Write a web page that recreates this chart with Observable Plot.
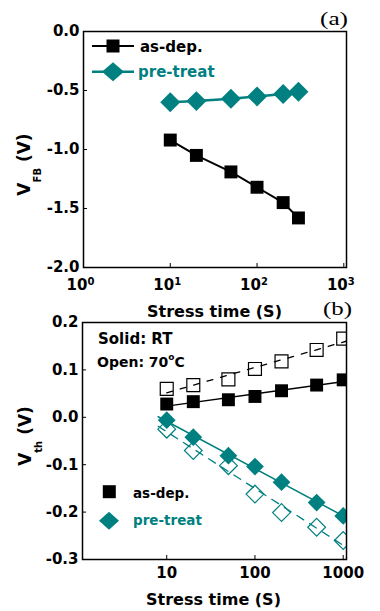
<!DOCTYPE html>
<html><head><meta charset="utf-8">
<script src="https://cdn.jsdelivr.net/npm/d3@7"></script>
<script src="https://cdn.jsdelivr.net/npm/@observablehq/plot@0.6"></script>
<style>
body{margin:0;background:#fff;}
#wrap{position:relative;width:380px;height:611px;overflow:hidden;background:#fff;}
#wrap svg{position:absolute;left:0;}
</style></head><body><div id="wrap"></div>
<script>
// ---- data (a) ----
const timeA = [10, 20, 50, 100, 200, 300];
const vfbAsDep = [-0.92, -1.05, -1.19, -1.32, -1.45, -1.58];
const vfbPre = [-0.60, -0.59, -0.57, -0.55, -0.53, -0.51];
const ticksAx = [1, 10, 100, 1000];
const ticksAy = [0, -0.5, -1.0, -1.5, -2.0];
// ---- data (b) ----
const timeB = [10, 20, 50, 100, 200, 500, 1000];
const vthAsDepRT = [0.028, 0.033, 0.037, 0.044, 0.056, 0.068, 0.079];
const vthAsDep70 = [0.060, 0.068, 0.080, 0.102, 0.118, 0.142, 0.166];
const vthPreRT = [-0.006, -0.042, -0.081, -0.104, -0.137, -0.180, -0.208];
const vthPre70 = [-0.025, -0.070, -0.102, -0.162, -0.201, -0.232, -0.260];
const ticksBx = [10, 100, 1000];
const ticksBy = [0.2, 0.1, 0.0, -0.1, -0.2, -0.3];
const seriesNames = ["as-dep.", "pre-treat"];

const TEAL = "#008080";
const FONT = "DejaVu Sans";
const W = 380;
const fmtY = d => d.toFixed(1);

// ---------- panel (a) ----------
const A = {h: 320, mt: 31, mb: 53, ml: 83, mr: 34};
const aPH = A.h - A.mt - A.mb, aPW = W - A.ml - A.mr;
const rowsA = timeA.map((t, i) => ({t, asdep: vfbAsDep[i], pre: vfbPre[i]}));

const plotA = Plot.plot({
  width: W, height: A.h, marginTop: A.mt, marginBottom: A.mb, marginLeft: A.ml, marginRight: A.mr,
  style: {fontFamily: FONT, fontSize: "15px", fontWeight: "bold", background: "transparent", overflow: "visible", color: "black"},
  x: {type: "log", domain: [1, 1074]},
  y: {domain: [-2, 0]},
  marks: [
    Plot.axisX({ticks: ticksAx, tickSize: 0, tickPadding: 12, tickFormat: d => String(Math.round(Math.log10(d))), label: null}),
    Plot.axisY({ticks: ticksAy, tickSize: 0, tickPadding: 4, tickFormat: fmtY, label: null}),
    Plot.tickX(ticksAx, {x: d => d, insetTop: aPH - 4, stroke: "black"}),
    Plot.tickY(ticksAy, {y: d => d, insetRight: aPW - 4, stroke: "black"}),
    Plot.line(rowsA, {x: "t", y: "asdep", stroke: "black", strokeWidth: 2}),
    Plot.line(rowsA, {x: "t", y: "pre", stroke: TEAL, strokeWidth: 2.5}),
    Plot.dot(rowsA, {x: "t", y: "asdep", symbol: "square", r: 7.3, fill: "black"}),
    Plot.dot(rowsA, {x: "t", y: "pre", symbol: "diamond2", r: 9, fill: TEAL}),
    Plot.frame({stroke: "black", strokeWidth: 1.5})
  ]
});
plotA.style.top = "0px";

// ---------- panel (b) ----------
const B = {h: 311, mt: 22, mb: 52, ml: 82, mr: 34};
const bPH = B.h - B.mt - B.mb, bPW = W - B.ml - B.mr;
const rowsB = timeB.map((t, i) => ({t, a: vthAsDepRT[i], a7: vthAsDep70[i], p: vthPreRT[i], p7: vthPre70[i]}));

function fit(xs, ys) {
  const lx = xs.map(Math.log10);
  const mx = d3.mean(lx), my = d3.mean(ys);
  const b = d3.sum(lx.map((v, i) => (v - mx) * (ys[i] - my))) / d3.sum(lx.map(v => (v - mx) ** 2));
  const a = my - b * mx;
  return x => a + b * Math.log10(x);
}
function fitLine(ys, lo) {
  const f = fit(timeB, ys);
  const x0 = d3.min(timeB) * lo, x1 = d3.max(timeB) * 1.1;
  return [{t: x0, v: f(x0)}, {t: x1, v: f(x1)}];
}

const plotB = Plot.plot({
  width: W, height: B.h, marginTop: B.mt, marginBottom: B.mb, marginLeft: B.ml, marginRight: B.mr,
  style: {fontFamily: FONT, fontSize: "15px", fontWeight: "bold", background: "transparent", overflow: "visible", color: "black"},
  x: {type: "log", domain: [1.11, 1090]},
  y: {domain: [-0.3, 0.2]},
  marks: [
    Plot.axisX({ticks: ticksBx, tickSize: 0, tickPadding: 8, tickFormat: d => String(d), label: null}),
    Plot.axisY({ticks: ticksBy, tickSize: 0, tickPadding: 4, tickFormat: fmtY, label: null}),
    Plot.tickX(ticksBx, {x: d => d, insetTop: bPH - 4, stroke: "black"}),
    Plot.tickY(ticksBy, {y: d => d, insetRight: bPW - 4, stroke: "black"}),
    Plot.line(fitLine(vthAsDepRT, 1), {x: "t", y: "v", stroke: "black", strokeWidth: 1.5, clip: true}),
    Plot.line(fitLine(vthAsDep70, 1), {x: "t", y: "v", stroke: "black", strokeWidth: 1.3, strokeDasharray: "6,8", clip: true}),
    Plot.line(fitLine(vthPreRT, 0.8), {x: "t", y: "v", stroke: TEAL, strokeWidth: 1.5, clip: true}),
    Plot.line(fitLine(vthPre70, 0.8), {x: "t", y: "v", stroke: TEAL, strokeWidth: 1.3, strokeDasharray: "8,7", clip: true}),
    Plot.dot(rowsB, {x: "t", y: "a7", symbol: "square", r: 7.3, fill: "none", stroke: "black", strokeWidth: 1.2, clip: true}),
    Plot.dot(rowsB, {x: "t", y: "p7", symbol: "diamond2", r: 8, fill: "none", stroke: TEAL, strokeWidth: 1.2, clip: true}),
    Plot.dot(rowsB, {x: "t", y: "a", symbol: "square", r: 7.3, fill: "black", clip: true}),
    Plot.dot(rowsB, {x: "t", y: "p", symbol: "diamond2", r: 8, fill: TEAL, clip: true}),
    Plot.frame({stroke: "black", strokeWidth: 1.5})
  ]
});
plotB.style.top = "300px";

const wrap = document.getElementById("wrap");
wrap.appendChild(plotA);
wrap.appendChild(plotB);

// ---------- annotations ----------
function txt(svg, x, y, s, o = {}) {
  const t = svg.append("text").attr("x", x).attr("y", y).text(s)
    .attr("font-family", o.family || FONT).attr("font-weight", o.weight || "bold")
    .attr("font-size", o.size || 15).attr("fill", o.fill || "black")
    .attr("text-anchor", o.anchor || "start");
  if (o.len) t.attr("textLength", o.len).attr("lengthAdjust", "spacingAndGlyphs");
  return t;
}
function yLabel(svg, cx, cy, sub) {
  const t = svg.append("text").attr("transform", `translate(${cx},${cy}) rotate(-90)`)
    .attr("text-anchor", "middle").attr("font-family", FONT).attr("font-weight", "bold")
    .attr("font-size", 17).attr("fill", "black");
  t.append("tspan").text("V");
  t.append("tspan").attr("font-size", 10).attr("dy", 11).text(sub);
  t.append("tspan").attr("dy", -11).text(" (V)");
}
function diamond(svg, x, y, hw, hh, fill) {
  svg.append("path").attr("d", `M${x},${y - hh}L${x + hw},${y}L${x},${y + hh}L${x - hw},${y}Z`).attr("fill", fill);
}

const sA = d3.select(plotA);
// rebuild x tick labels of (a) as 10 with superscript exponent
sA.selectAll("g[aria-label='x-axis tick label'] text").each(function () {
  const el = d3.select(this);
  const e = el.text();
  el.text(null).attr("dx", "-3");
  el.append("tspan").text("10");
  el.append("tspan").attr("font-size", 10).attr("dy", "-0.55em").text(e);
});
txt(sA, 320, 25, "(a)", {family: "Liberation Serif", weight: "normal", size: 18, len: 28});
txt(sA, 214.5, 316.5, "Stress time (S)", {size: 16, anchor: "middle"});
yLabel(sA, 30, 164.5, "FB");
// legend (a)
sA.append("line").attr("x1", 92).attr("x2", 134).attr("y1", 46).attr("y2", 46).attr("stroke", "black").attr("stroke-width", 2);
sA.append("rect").attr("x", 106.5).attr("y", 39.5).attr("width", 13).attr("height", 13).attr("fill", "black");
txt(sA, 140, 51.5, seriesNames[0], {size: 15});
sA.append("line").attr("x1", 92).attr("x2", 134).attr("y1", 71.7).attr("y2", 71.7).attr("stroke", TEAL).attr("stroke-width", 2.5);
diamond(sA, 113, 71.7, 11, 9.5, TEAL);
txt(sA, 138, 77, seriesNames[1], {size: 15, fill: TEAL});

const sB = d3.select(plotB);
txt(sB, 323, 15, "(b)", {family: "Liberation Serif", weight: "normal", size: 18, len: 29});
txt(sB, 213.5, 305, "Stress time (S)", {size: 16, anchor: "middle"});
yLabel(sB, 31, 136, "th");
txt(sB, 98, 44, "Solid: RT", {size: 15});
const op = txt(sB, 97, 66.7, "Open: 70", {size: 14});
op.append("tspan").attr("font-size", 9).attr("dy", -7).text("o");
op.append("tspan").attr("dy", 7).text("C");
// legend (b)
sB.append("rect").attr("x", 102.8).attr("y", 185.2).attr("width", 13).attr("height", 13).attr("fill", "black");
txt(sB, 133, 198.3, seriesNames[0], {size: 13.5});
diamond(sB, 109, 220.7, 10, 9, TEAL);
txt(sB, 133, 225, seriesNames[1], {size: 13.5, fill: TEAL});
</script></body></html>
